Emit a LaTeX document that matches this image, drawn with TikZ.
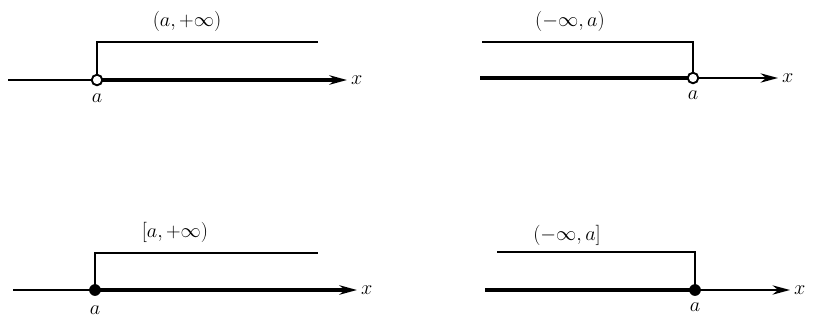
\documentclass[tikz,border=0pt]{standalone}
\usetikzlibrary{arrows.meta}
\begin{document}
\begin{tikzpicture}[x=0.3mm,y=-0.3mm,every node/.style={font=\LARGE},
    axisline/.style={line width=1.4pt},
    rayline/.style={line width=3.6pt},
    bracketline/.style={line width=1.3pt},
    tip/.style={-{Stealth[length=15pt,width=8pt]}},
    opendot/.style={circle,draw,line width=1.6pt,fill=white,inner sep=0pt,minimum size=9pt},
    closeddot/.style={circle,fill,inner sep=0pt,minimum size=10pt}]
    \useasboundingbox (0,0) rectangle (813,331);
    % (a,+infty)
    \coordinate (s1) at (8,80);
    \coordinate (e1) at (347,80);
    \draw[axisline] (s1) -- (97,80);
    \draw[rayline,tip] (97,80) -- (e1);
    \node[opendot] (p1) at (97,80) {};
    \node[right] (x1) at (e1) {$x$};
    \node[below=3pt] (a1) at (p1.south) {$a$};
    \coordinate (r1) at (318,42);
    \draw[bracketline] (p1.north) |- (r1);
    \node (t1) at (187,21) {$(a,+\infty)$};
    % (-infty,a)
    \coordinate (s2) at (480,78);
    \coordinate (e2) at (778,78);
    \draw[rayline] (s2) -- (693,78);
    \draw[axisline,tip] (693,78) -- (e2);
    \node[opendot] (p2) at (693,78) {};
    \node[right] (x2) at (e2) {$x$};
    \node[below=2pt] (a2) at (p2.south) {$a$};
    \coordinate (l2) at (482,42);
    \draw[bracketline] (p2.north) |- (l2);
    \node (t2) at (570,21) {$(-\infty,a)$};
    % [a,+infty)
    \coordinate (s3) at (13,290);
    \coordinate (e3) at (357,290);
    \draw[axisline] (s3) -- (95,290);
    \draw[rayline,tip] (95,290) -- (e3);
    \node[closeddot] (p3) at (95,290) {};
    \node[right] (x3) at (e3) {$x$};
    \node[below=5pt] (a3) at (p3.south) {$a$};
    \coordinate (r3) at (318,253);
    \draw[bracketline] (p3.center) |- (r3);
    \node (t3) at (175,232) {$[a,+\infty)$};
    % (-infty,a]
    \coordinate (s4) at (485,290);
    \coordinate (e4) at (790,290);
    \draw[rayline] (s4) -- (695,290);
    \draw[axisline,tip] (695,290) -- (e4);
    \node[closeddot] (p4) at (695,290) {};
    \node[right] (x4) at (e4) {$x$};
    \node[below=2pt] (a4) at (p4.south) {$a$};
    \coordinate (l4) at (497,252);
    \draw[bracketline] (p4.center) |- (l4);
    \node (t4) at (567,235) {$(-\infty,a]$};
\end{tikzpicture}
\end{document}
